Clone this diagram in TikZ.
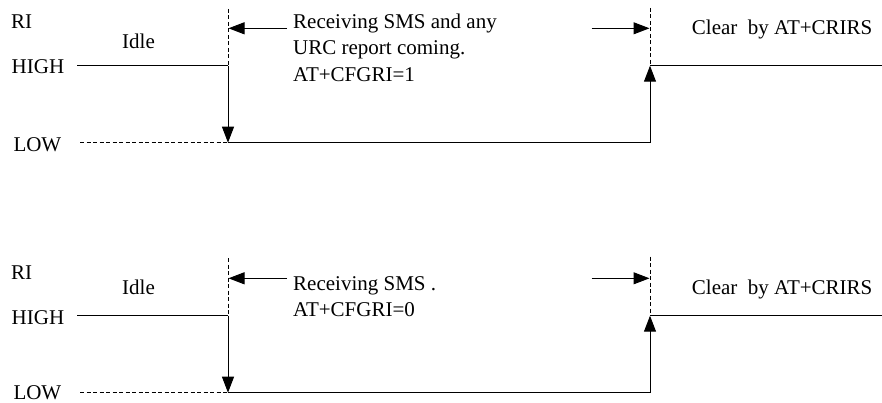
\documentclass[tikz,border=0pt]{standalone}
\usepackage{fontspec}
\setmainfont{Liberation Serif}
\usetikzlibrary{arrows.meta}
\begin{document}
\begin{tikzpicture}[x=1pt,y=-1pt,
  lbl/.style={anchor=base west, inner sep=0pt, font=\fontsize{21}{26}\selectfont},
  sig/.style={line width=1pt},
  dsh/.style={line width=0.8pt, dash pattern=on 4pt off 2.5pt},
  arr/.style={line width=1pt, -{Triangle[length=16pt 0 0,width=12pt 0 0]}}]
\useasboundingbox (0,0) rectangle (882,403);
% ---------- top panel ----------
\node[lbl] (tRI) at (11,29) {RI};
\node[lbl] (tIdle) at (122,49) {Idle};
\node[lbl] (tHIGH) at (11.5,74) {HIGH};
\node[lbl] (tLOW) at (13.3,151.7) {LOW};
\node[lbl] (tT1) at (293,28.3) {Receiving SMS and any};
\node[lbl] (tT2) at (293,55) {URC report coming.};
\node[lbl] (tT3) at (293,81.7) {AT+CFGRI=1};
\node[lbl] (tClr) at (691.7,35) {Clear\ \ by AT+CRIRS};
\coordinate (thA) at (77,65.7);
\coordinate (thB) at (228,65.7);
\coordinate (tlA) at (80,142.7);
\coordinate (tlB) at (228,142.7);
\coordinate (tlC) at (650,142.7);
\coordinate (thC) at (650,65.7);
\coordinate (thD) at (882,65.7);
\coordinate (tdL) at (228,9);
\coordinate (tdR) at (650,8);
\coordinate (taL1) at (287,28.3);
\coordinate (taL2) at (228.5,28.3);
\coordinate (taR1) at (591.7,28.3);
\coordinate (taR2) at (649.5,28.3);
\draw[dsh] (tdL) -- (thB);
\draw[dsh] (tdR) -- (thC);
\draw[dsh] (tlA) -- (tlB);
\draw[sig] (thA) -- (thB);
\draw[arr] (thB) -- (tlB);
\draw[sig] (tlB) -- (tlC);
\draw[arr] (tlC) -- (thC);
\draw[sig] (thC) -- (thD);
\draw[arr] (taL1) -- (taL2);
\draw[arr] (taR1) -- (taR2);
% ---------- bottom panel ----------
\node[lbl] (bRI) at (11,279) {RI};
\node[lbl] (bIdle) at (122,294.3) {Idle};
\node[lbl] (bHIGH) at (11.5,324) {HIGH};
\node[lbl] (bLOW) at (13.3,399.5) {LOW};
\node[lbl] (bT1) at (293,290) {Receiving SMS .};
\node[lbl] (bT2) at (293,316.7) {AT+CFGRI=0};
\node[lbl] (bClr) at (691.7,294.3) {Clear\ \ by AT+CRIRS};
\coordinate (bhA) at (77,315.7);
\coordinate (bhB) at (228,315.7);
\coordinate (blA) at (80,392.7);
\coordinate (blB) at (228,392.7);
\coordinate (blC) at (650,392.7);
\coordinate (bhC) at (650,315.7);
\coordinate (bhD) at (882,315.7);
\coordinate (bdL) at (228,258);
\coordinate (bdR) at (650,256.7);
\coordinate (baL1) at (287,278.3);
\coordinate (baL2) at (228.5,278.3);
\coordinate (baR1) at (591.7,278.3);
\coordinate (baR2) at (649.5,278.3);
\draw[dsh] (bdL) -- (bhB);
\draw[dsh] (bdR) -- (bhC);
\draw[dsh] (blA) -- (blB);
\draw[sig] (bhA) -- (bhB);
\draw[arr] (bhB) -- (blB);
\draw[sig] (blB) -- (blC);
\draw[arr] (blC) -- (bhC);
\draw[sig] (bhC) -- (bhD);
\draw[arr] (baL1) -- (baL2);
\draw[arr] (baR1) -- (baR2);
\end{tikzpicture}
\end{document}
